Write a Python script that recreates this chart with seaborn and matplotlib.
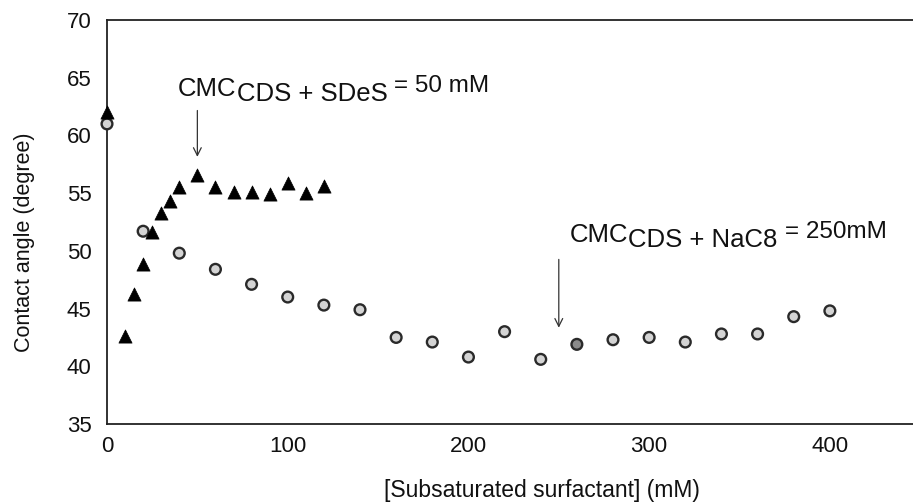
import matplotlib
matplotlib.use("Agg")
import matplotlib.pyplot as plt
from matplotlib.transforms import offset_copy
import seaborn as sns
import pandas as pd

sdes_conc = [0, 10, 15, 20, 25, 30, 35, 40, 50, 60, 70, 80, 90, 100, 110, 120]
sdes_angle = [62.0, 42.6, 46.3, 48.9, 51.6, 53.3, 54.3, 55.5, 56.6, 55.5, 55.1, 55.1, 54.9, 55.9, 55.0, 55.6]

nac8_conc = [0, 20, 40, 60, 80, 100, 120, 140, 160, 180, 200, 220, 240, 260,
             280, 300, 320, 340, 360, 380, 400]
nac8_angle = [61.0, 51.7, 49.8, 48.4, 47.1, 46.0, 45.3, 44.9, 42.5, 42.1, 40.8, 43.0,
              40.6, 41.9, 42.3, 42.5, 42.1, 42.8, 42.8, 44.3, 44.8]

x_ticks = [0, 100, 200, 300, 400]
y_ticks = [35, 40, 45, 50, 55, 60, 65, 70]

sns.set_style("white")
plt.rcParams['font.family'] = ['Liberation Sans', 'DejaVu Sans']

df_s = pd.DataFrame({"conc": sdes_conc, "angle": sdes_angle})
df_n = pd.DataFrame({"conc": nac8_conc, "angle": nac8_angle})
df_n["fill"] = ["#d4d4d4"] * len(df_n)
df_n.loc[df_n["conc"] == 260, "fill"] = "#8a8a8a"

fig = plt.figure(figsize=(9.13, 5.04), dpi=100)
ax = fig.add_axes([107 / 913, 1 - 424 / 504, 1 - 107 / 913, (424 - 20) / 504])

sns.scatterplot(data=df_n, x="conc", y="angle", ax=ax, marker="o", s=60,
                color=df_n["fill"].tolist(), edgecolor="#2a2a2a", linewidth=1.7,
                clip_on=False, zorder=3, legend=False)
sns.scatterplot(data=df_s, x="conc", y="angle", ax=ax, marker="^", s=90,
                color="black", edgecolor="black", linewidth=0.5,
                clip_on=False, zorder=4, legend=False)

ax.set_xlim(0, 446)
ax.set_ylim(35, 70)
ax.set_xticks(x_ticks)
ax.set_yticks(y_ticks)
ax.tick_params(axis='x', direction='in', length=5, width=1.2, labelsize=16, pad=9, colors='#222222')
ax.tick_params(axis='y', direction='out', length=6, width=1.2, labelsize=16, pad=5, colors='#222222')
for lab in ax.get_xticklabels() + ax.get_yticklabels():
    lab.set_color('#111111')

for side in ['left', 'bottom', 'top']:
    ax.spines[side].set_visible(True)
    ax.spines[side].set_color('#222222')
    ax.spines[side].set_linewidth(1.3)
ax.spines['right'].set_visible(False)

ax.set_xlabel("[Subsaturated surfactant] (mM)", fontsize=16.5, color='#111111')
ax.xaxis.set_label_coords(0.54, -0.135)
ax.set_ylabel("Contact angle (degree)", fontsize=15.5, color='#111111')
ax.yaxis.set_label_coords(-0.089, 0.45)


def rich_text(x, y, parts):
    """parts: list of (string, fontsize, dy_points)"""
    fig.canvas.draw()
    renderer = fig.canvas.get_renderer()
    dx = 0.0
    for s, fs, dy in parts:
        tr = offset_copy(ax.transData, fig=fig, x=dx, y=dy, units='points')
        t = ax.text(x, y, s, fontsize=fs, color='#111111', ha='left', va='baseline', transform=tr)
        bb = t.get_window_extent(renderer=renderer)
        dx += bb.width * 72.0 / fig.dpi


ax.annotate("", xy=(50, 57.9), xytext=(50, 62.4),
            arrowprops=dict(arrowstyle="->", color="#333333", lw=0.9, mutation_scale=14))
rich_text(39.3, 63.4, [("CMC", 18.5, 0), ("CDS + SDeS ", 18.5, -3.6), ("= 50 mM", 17.5, 2.9)])

ax.annotate("", xy=(250, 43.1), xytext=(250, 49.5),
            arrowprops=dict(arrowstyle="->", color="#333333", lw=0.9, mutation_scale=14))
rich_text(256, 50.8, [("CMC", 18.5, 0), ("CDS + NaC8 ", 18.5, -3.6), ("= 250mM", 17.5, 2.9)])

fig.savefig("out.png", dpi=100)
